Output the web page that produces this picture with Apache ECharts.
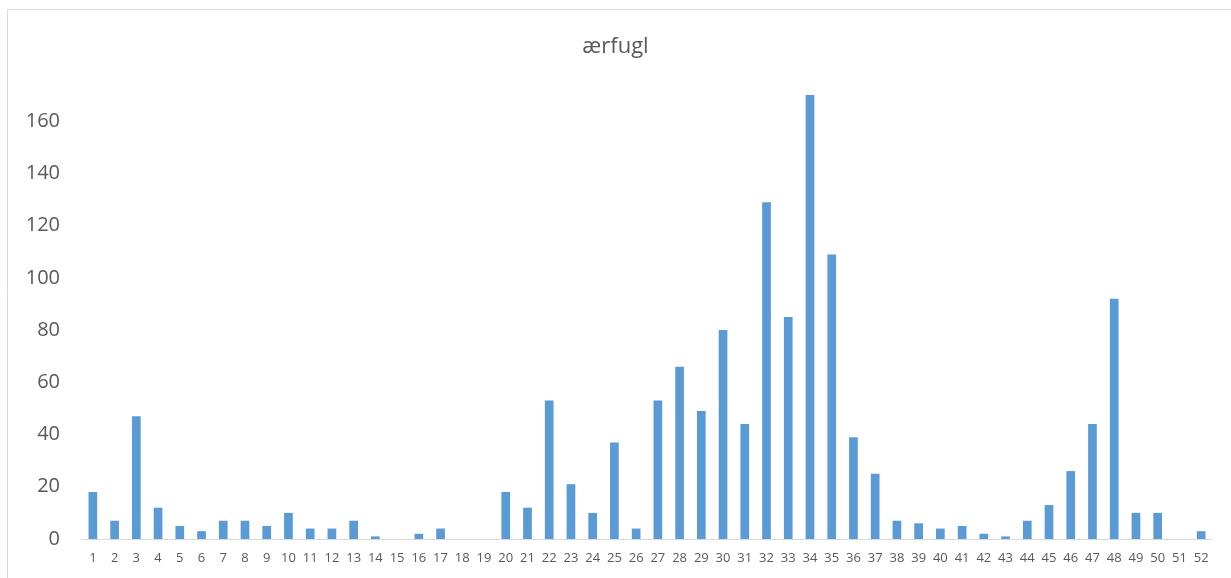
<!DOCTYPE html>
<html>
<head>
<meta charset="utf-8">
<script src="https://cdn.jsdelivr.net/npm/echarts@6/dist/echarts.min.js"></script>
<style>
  html, body { margin: 0; padding: 0; background: #fff; }
  #chart { width: 1231px; height: 578px; }
</style>
</head>
<body>
<div id="chart"></div>
<script>
// Weekly counts of eider (ærfugl), weeks 1–52
const weeks = Array.from({ length: 52 }, (_, i) => String(i + 1));
const counts = [
  18, 7, 47, 12, 5, 3, 7, 7, 5, 10,
  4, 4, 7, 1, 0, 2, 4, 0, 0, 18,
  12, 53, 21, 10, 37, 4, 53, 66, 49, 80,
  44, 129, 85, 170, 109, 39, 25, 7, 6, 4,
  5, 2, 1, 7, 13, 26, 44, 92, 10, 10,
  0, 3
];
const titleText = 'ærfugl';

const FONT = '"Open Sans", "Liberation Sans", sans-serif';
const chart = echarts.init(document.getElementById('chart'));
chart.setOption({
  animation: false,
  backgroundColor: '#ffffff',
  graphic: [{
    type: 'rect',
    silent: true,
    shape: { x: 7.5, y: 9.5, width: 1260, height: 620 },
    style: { fill: 'none', stroke: '#d9d9d9', lineWidth: 1 }
  }],
  title: {
    text: titleText,
    left: 'center',
    top: 31,
    textStyle: { fontFamily: FONT, fontSize: 22, fontWeight: 'normal', color: '#595959' }
  },
  grid: { left: 82, right: 19, top: 69, bottom: 39 },
  xAxis: {
    type: 'category',
    data: weeks,
    axisLine: { lineStyle: { color: '#d9d9d9', width: 1 } },
    axisTick: { show: false },
    axisLabel: { interval: 0, margin: 13, fontFamily: FONT, fontSize: 13, color: '#595959' }
  },
  yAxis: {
    type: 'value',
    min: 0,
    max: 180,
    interval: 20,
    axisLine: { show: false },
    axisTick: { show: false },
    splitLine: { show: false },
    axisLabel: { showMaxLabel: false, margin: 22, fontFamily: FONT, fontSize: 20, color: '#595959' }
  },
  series: [{
    type: 'bar',
    data: counts,
    barCategoryGap: '60%',
    itemStyle: { color: '#5b9bd5' }
  }]
});
</script>
</body>
</html>
